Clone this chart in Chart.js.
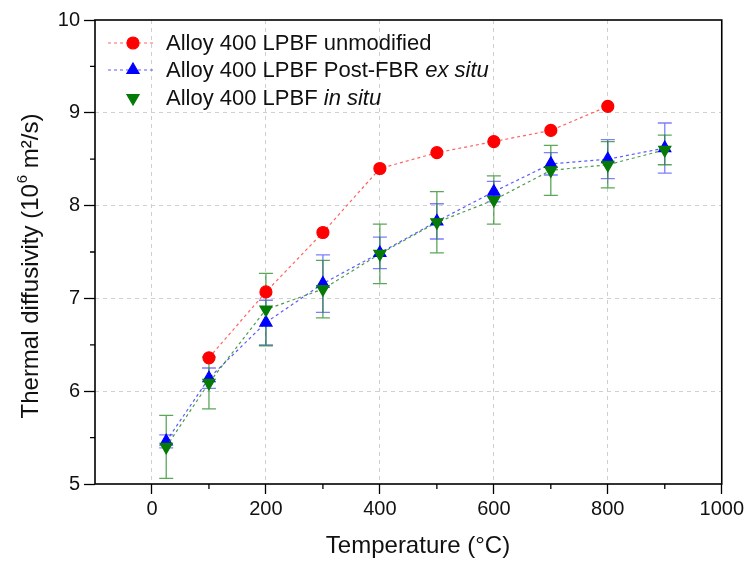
<!DOCTYPE html>
<html>
<head>
<meta charset="utf-8">
<script src="https://cdn.jsdelivr.net/npm/chart.js@4.4.1/dist/chart.umd.min.js"></script>
<style>
  body { margin: 0; background: #fff; }
  #wrap { width: 747px; height: 561px; position: relative; }
</style>
</head>
<body>
<div id="wrap"><canvas id="diffusivity"></canvas></div>
<script>
// --- data ---
const tempsUnmod = [100, 200, 300, 400, 500, 600, 700, 800];
const unmodified = [6.36, 7.07, 7.71, 8.40, 8.57, 8.69, 8.81, 9.07];

const temps = [25, 100, 200, 300, 400, 500, 600, 700, 800, 900];
const exSitu = [5.46, 6.14, 6.74, 7.16, 7.49, 7.83, 8.15, 8.45, 8.50, 8.62];
const exSituErr = [0.07, 0.11, 0.24, 0.31, 0.17, 0.19, 0.11, 0.12, 0.21, 0.27];
const inSitu = [5.40, 6.09, 6.88, 7.10, 7.48, 7.82, 8.06, 8.38, 8.44, 8.60];
const inSituErr = [0.34, 0.28, 0.39, 0.31, 0.32, 0.33, 0.26, 0.27, 0.25, 0.16];

const legendLabels = [
  ['Alloy 400 LPBF unmodified', ''],
  ['Alloy 400 LPBF Post-FBR ', 'ex situ'],
  ['Alloy 400 LPBF ', 'in situ']
];
const xTitle = 'Temperature (°C)';
const yTitle = ['Thermal diffusivity (10', '6', ' m²/s)'];

const FONT = "'Liberation Sans', Arial, sans-serif";

function pts(xs, ys) {
  return xs.map((x, i) => ({ x: x, y: ys[i] }));
}

// error bars, drawn under the markers
const errorBars = {
  id: 'errorBars',
  beforeDatasetsDraw(chart) {
    const ctx = chart.ctx;
    const xs = chart.scales.x, ys = chart.scales.y;
    const sets = [
      { vals: exSitu, err: exSituErr, color: 'rgba(40,40,255,0.6)' },
      { vals: inSitu, err: inSituErr, color: 'rgba(20,130,20,0.7)' }
    ];
    ctx.save();
    sets.forEach(s => {
      ctx.strokeStyle = s.color;
      ctx.lineWidth = 1.3;
      temps.forEach((t, i) => {
        const px = xs.getPixelForValue(t);
        const top = ys.getPixelForValue(s.vals[i] + s.err[i]);
        const bot = ys.getPixelForValue(s.vals[i] - s.err[i]);
        ctx.beginPath();
        ctx.moveTo(px, top); ctx.lineTo(px, bot);
        ctx.moveTo(px - 7, top); ctx.lineTo(px + 7, top);
        ctx.moveTo(px - 7, bot); ctx.lineTo(px + 7, bot);
        ctx.stroke();
      });
    });
    ctx.restore();
  }
};

// frame, minor ticks, axis titles and the legend
const frameAndLegend = {
  id: 'frameAndLegend',
  afterDraw(chart) {
    const ctx = chart.ctx;
    const a = chart.chartArea;
    const xs = chart.scales.x, ys = chart.scales.y;
    ctx.save();
    ctx.strokeStyle = '#000';
    ctx.lineWidth = 1.6;
    ctx.strokeRect(a.left, a.top, a.right - a.left, a.bottom - a.top);

    ctx.lineWidth = 1.3;
    ctx.beginPath();
    for (let v = 100; v < 1000; v += 200) {
      const px = xs.getPixelForValue(v);
      ctx.moveTo(px, a.bottom); ctx.lineTo(px, a.bottom + 5);
    }
    for (let v = 5.5; v < 10; v += 1) {
      const py = ys.getPixelForValue(v);
      ctx.moveTo(a.left, py); ctx.lineTo(a.left - 5, py);
    }
    ctx.stroke();

    // axis titles
    ctx.fillStyle = '#111';
    ctx.textBaseline = 'middle';
    ctx.textAlign = 'center';
    ctx.font = '24px ' + FONT;
    ctx.fillText(xTitle, 418, 546);

    ctx.translate(31, 266);
    ctx.rotate(-Math.PI / 2);
    ctx.textAlign = 'left';
    ctx.font = '24px ' + FONT;
    const w0 = ctx.measureText(yTitle[0]).width;
    const w2 = ctx.measureText(yTitle[2]).width;
    ctx.font = '15px ' + FONT;
    const w1 = ctx.measureText(yTitle[1]).width + 1;
    let tx = -(w0 + w1 + w2) / 2;
    ctx.font = '24px ' + FONT;
    ctx.fillText(yTitle[0], tx, 0);
    ctx.font = '15px ' + FONT;
    ctx.fillText(yTitle[1], tx + w0 + 1, -8);
    ctx.font = '24px ' + FONT;
    ctx.fillText(yTitle[2], tx + w0 + w1, 0);
    ctx.setTransform(1, 0, 0, 1, 0, 0);

    // legend
    const ds = chart.data.datasets;
    const rowY = [43, 70, 98];
    ctx.textBaseline = 'middle';
    ctx.textAlign = 'left';
    legendLabels.forEach((lab, i) => {
      const d = ds[i];
      const y = rowY[i];
      if (i < 2) {
        ctx.setLineDash([3, 3]);
        ctx.strokeStyle = d.borderColor;
        ctx.lineWidth = 1.2;
        ctx.beginPath();
        ctx.moveTo(108, y); ctx.lineTo(156, y);
        ctx.stroke();
        ctx.setLineDash([]);
      }
      ctx.fillStyle = d.pointBackgroundColor;
      ctx.strokeStyle = d.pointBackgroundColor;
      Chart.helpers.drawPoint(ctx, {
        pointStyle: d.pointStyle, radius: d.pointRadius,
        rotation: d.pointRotation || 0, borderWidth: 1
      }, 133, y);
      ctx.fillStyle = '#111';
      ctx.font = '22px ' + FONT;
      ctx.fillText(lab[0], 166, y + 1);
      const w = ctx.measureText(lab[0]).width;
      ctx.font = 'italic 22px ' + FONT;
      ctx.fillText(lab[1], 166 + w, y + 1);
    });
    ctx.restore();
  }
};

const data = {
  datasets: [{
    label: 'unmodified',
    data: pts(tempsUnmod, unmodified),
    borderColor: 'rgba(255,60,60,0.8)',
    borderWidth: 1.2,
    borderDash: [3, 3],
    pointStyle: 'circle',
    pointRadius: 6,
    pointBackgroundColor: '#ff0000',
    pointBorderColor: '#ff0000',
    order: 3
  }, {
    label: 'ex situ',
    data: pts(temps, exSitu),
    borderColor: 'rgba(50,50,255,0.8)',
    borderWidth: 1.2,
    borderDash: [3, 3],
    pointStyle: 'triangle',
    pointRadius: 7,
    pointBackgroundColor: '#0000ff',
    pointBorderColor: '#0000ff',
    order: 2
  }, {
    label: 'in situ',
    data: pts(temps, inSitu),
    borderColor: 'rgba(30,130,30,0.8)',
    borderWidth: 1.2,
    borderDash: [3, 3],
    pointStyle: 'triangle',
    pointRotation: 180,
    pointRadius: 7,
    pointBackgroundColor: '#067a06',
    pointBorderColor: '#067a06',
    order: 1
  }]
};

const isMajorX = v => v % 200 === 0;
const isMajorY = v => Number.isInteger(v);

const config = {
  type: 'line',
  data: data,
  plugins: [errorBars, frameAndLegend],
  options: {
    responsive: true,
    maintainAspectRatio: false,
    animation: false,
    layout: { padding: { top: 20, right: 24, left: 0, bottom: 0 } },
    plugins: { legend: { display: false }, tooltip: { enabled: false } },
    elements: { line: { tension: 0 } },
    scales: {
      x: {
        type: 'linear',
        min: -100, max: 1000,
        afterFit(s) { s.height = 77; },
        ticks: {
          stepSize: 100,
          autoSkip: false,
          maxRotation: 0,
          padding: 3,
          color: '#111',
          font: { family: FONT, size: 20 },
          callback: v => isMajorX(v) ? String(v) : ''
        },
        grid: {
          color: c => (isMajorX(c.tick.value) && c.tick.value > -100 && c.tick.value < 1000) ? '#cfcfcf' : 'rgba(0,0,0,0)',
          tickColor: c => isMajorX(c.tick.value) ? '#000' : 'rgba(0,0,0,0)',
          tickLength: 10,
          tickWidth: 1.3,
          lineWidth: 1
        },
        border: { display: false, dash: [4, 4] }
      },
      y: {
        min: 5, max: 10,
        afterFit(s) { s.width = 95; },
        ticks: {
          stepSize: 0.5,
          autoSkip: false,
          padding: 4,
          color: '#111',
          font: { family: FONT, size: 20 },
          callback: v => isMajorY(v) ? String(v) : ''
        },
        grid: {
          color: c => (isMajorY(c.tick.value) && c.tick.value > 5 && c.tick.value < 10) ? '#cfcfcf' : 'rgba(0,0,0,0)',
          tickColor: c => isMajorY(c.tick.value) ? '#000' : 'rgba(0,0,0,0)',
          tickLength: 11,
          tickWidth: 1.3,
          lineWidth: 1
        },
        border: { display: false, dash: [4, 4] }
      }
    }
  }
};

const diffusivityChart = new Chart(document.getElementById('diffusivity'), config);
</script>
</body>
</html>
